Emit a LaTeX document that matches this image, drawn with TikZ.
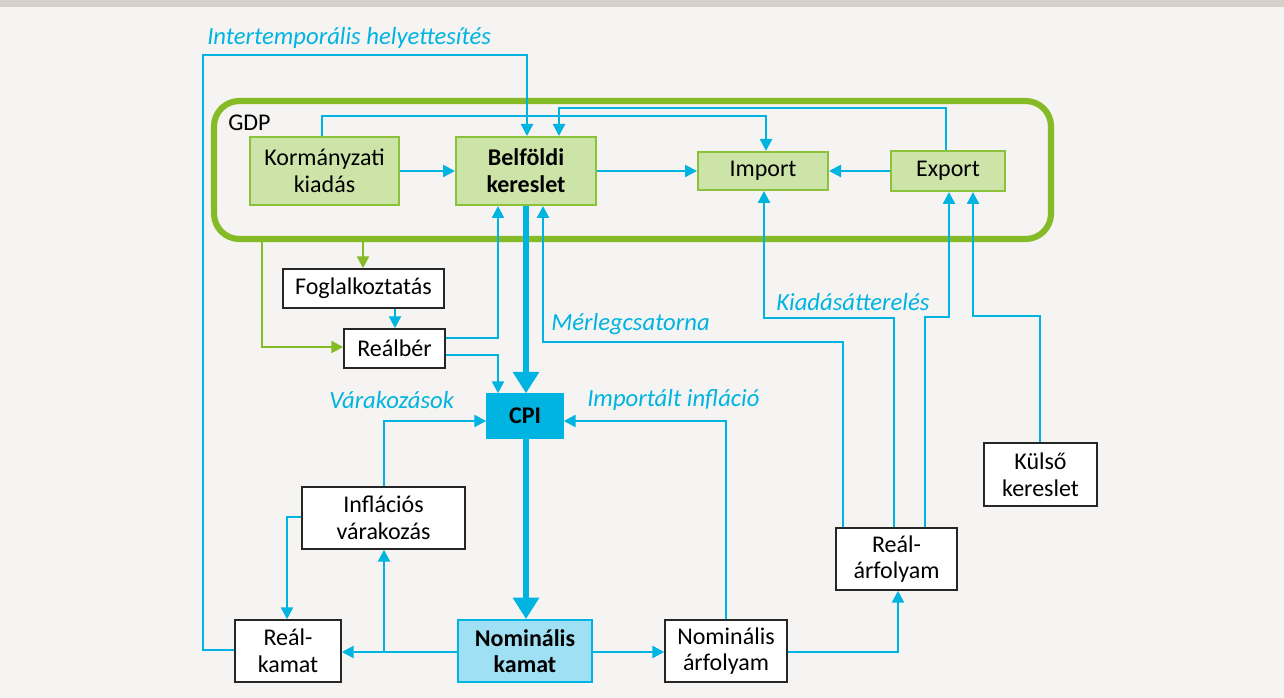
\documentclass[tikz,border=0pt]{standalone}
\usepackage{fontspec}
\setmainfont{Carlito}
\usetikzlibrary{arrows.meta,calc}
\definecolor{cy}{HTML}{00B4E1}
\definecolor{gr}{HTML}{84BB26}
\definecolor{gline}{HTML}{8CC13A}
\definecolor{gfill}{HTML}{CDE4A9}
\definecolor{bg}{HTML}{F5F4F2}
\definecolor{band}{HTML}{D6D0CB}
\definecolor{nkfill}{HTML}{A0E0F4}
\begin{document}
\begin{tikzpicture}[x=0.75pt,y=-0.75pt,
  box/.style={draw=black!85, line width=1.1pt, fill=white, inner sep=0pt, align=center,
    font=\fontsize{18}{20}\selectfont},
  gbox/.style={box, draw=gline, line width=1.5pt, fill=gfill},
  conn/.style={draw=cy, line width=1.8pt, -{Triangle[length=9pt,width=9pt]}},
  bigconn/.style={draw=cy, line width=3.8pt, -{Triangle[length=16pt,width=19pt]}},
  gconn/.style={draw=gr, line width=1.8pt, -{Triangle[length=9pt,width=9pt]}},
  lbl/.style={text=cy, inner sep=0pt, anchor=west, font=\fontsize{18.5}{20}\selectfont\itshape}
]
\useasboundingbox (0,0) rectangle (1284,698);
\fill[bg] (0,0) rectangle (1284,698);
\fill[band] (0,0) rectangle (1284,7);

% GDP frame
\draw[gr, line width=4.6pt, rounded corners=19pt] (214,101) rectangle (1051,239);
\node[inner sep=0pt, anchor=west, font=\fontsize{18}{20}\selectfont] (gdp) at (228,123) {GDP};
\coordinate (gdpb1) at (262,239);
\coordinate (gdpb2) at (363,239);

% nodes
\node[gbox, minimum width=149*0.75pt, minimum height=68*0.75pt] (korm) at (324.5,171) {Kormányzati\\kiadás};
\node[gbox, minimum width=140*0.75pt, minimum height=68*0.75pt, font=\fontsize{18}{20}\selectfont\bfseries] (belf) at (526,171) {Belföldi\\kereslet};
\node[gbox, minimum width=130*0.75pt, minimum height=38*0.75pt] (imp) at (763,171) {Import};
\node[gbox, minimum width=114*0.75pt, minimum height=40*0.75pt] (exp) at (948,171) {Export};
\node[box, minimum width=161*0.75pt, minimum height=39*0.75pt] (fogl) at (363.5,288.5) {Foglalkoztatás};
\node[box, minimum width=101*0.75pt, minimum height=39*0.75pt] (rber) at (394.5,348.5) {Reálbér};
\node[box, draw=cy, fill=cy, minimum width=76*0.75pt, minimum height=44*0.75pt, font=\fontsize{18}{20}\selectfont\bfseries] (cpi) at (525,416) {CPI};
\node[box, minimum width=163*0.75pt, minimum height=62*0.75pt] (infv) at (383.5,518) {Inflációs\\várakozás};
\node[box, minimum width=106*0.75pt, minimum height=62*0.75pt] (rkam) at (288,651) {Reál-\\kamat};
\node[box, draw=cy, line width=1.5pt, fill=nkfill, minimum width=134*0.75pt, minimum height=62*0.75pt, font=\fontsize{18}{20}\selectfont\bfseries] (nkam) at (525,651) {Nominális\\kamat};
\node[box, minimum width=122*0.75pt, minimum height=62*0.75pt] (narf) at (726,651) {Nominális\\árfolyam};
\node[box, minimum width=121*0.75pt, minimum height=62*0.75pt] (rarf) at (896.5,559) {Reál-\\árfolyam};
\node[box, minimum width=113*0.75pt, minimum height=63*0.75pt] (kuls) at (1040.5,474.5) {Külső\\kereslet};

% x helper coordinates
\coordinate (x203) at (203,0);
\coordinate (x287) at (287,0);
\coordinate (x322) at (322,0);
\coordinate (x363) at (363,0);
\coordinate (x384) at (384,0);
\coordinate (x395) at (395,0);
\coordinate (x498) at (498,0);
\coordinate (x526) at (526,0);
\coordinate (x527) at (527,0);
\coordinate (x543) at (543,0);
\coordinate (x559) at (559,0);
\coordinate (x726) at (726,0);
\coordinate (x764) at (764,0);
\coordinate (x766) at (766,0);
\coordinate (x843) at (843,0);
\coordinate (x894) at (894,0);
\coordinate (x898) at (898,0);
\coordinate (x925) at (925,0);
\coordinate (x946) at (946,0);
\coordinate (x949) at (949,0);
\coordinate (x973) at (973,0);
\coordinate (x1040) at (1040,0);
% y helper coordinates
\coordinate (y55) at (0,55);
\coordinate (y108) at (0,108);
\coordinate (y116) at (0,116);
\coordinate (y316) at (0,316);
\coordinate (y317) at (0,317);
\coordinate (y318) at (0,318);
\coordinate (y338) at (0,338);
\coordinate (y342) at (0,342);
\coordinate (y347) at (0,347);
\coordinate (y355) at (0,355);
\coordinate (y421) at (0,421);
\coordinate (y517) at (0,517);
\coordinate (y650) at (0,650);
\coordinate (y652) at (0,652);

% intertemporal
\draw[conn] (rkam.west |- y650) -| (x203 |- y55) -| (belf.north -| x527);
\node[lbl] (lint) at (207,38) {Intertemporális helyettesítés};
% top links
\draw[conn] (korm.north -| x322) |- (x766 |- y116) -- (imp.north -| x766);
\draw[conn] (exp.north -| x946) |- (x559 |- y108) -- (belf.north -| x559);
\draw[conn] (korm.east) -- (belf.west);
\draw[conn] (belf.east) -- (imp.west);
\draw[conn] (exp.west) -- (imp.east);
% green
\draw[gconn] (gdpb1) |- (rber.west |- y347);
\draw[gconn] (gdpb2) -- (fogl.north -| x363);
% labour
\draw[conn] (fogl.south -| x395) -- (rber.north -| x395);
\draw[conn] (rber.east |- y338) -| (belf.south -| x498);
\draw[conn] (rber.east |- y355) -| (cpi.north -| x498);
\draw[bigconn] (belf.south -| x526) -- (cpi.north -| x526);
% balance sheet
\draw[conn] (rarf.north -| x843) |- (x543 |- y342) -- (belf.south -| x543);
\node[lbl] (lmerl) at (551,324) {Mérlegcsatorna};
% expenditure switching
\draw[conn] (rarf.north -| x894) |- (x764 |- y318) -- (imp.south -| x764);
\node[lbl] (lkiad) at (776,302) {Kiadásátterelés};
\draw[conn] (rarf.north -| x925) |- (x949 |- y317) -- (exp.south -| x949);
\draw[conn] (kuls.north -| x1040) |- (x973 |- y316) -- (exp.south -| x973);
% expectations, imported inflation
\draw[conn] (infv.north -| x384) |- (cpi.west |- y421);
\node[lbl] (lvar) at (329,400) {Várakozások};
\draw[conn] (narf.north -| x726) |- (cpi.east |- y421);
\node[lbl] (limp) at (587,400) {Importált infláció};
% bottom
\draw[bigconn] (cpi.south -| x526) -- (nkam.north -| x526);
\draw[conn] (nkam.west |- y652) -- (rkam.east |- y652);
\draw[conn] (x384 |- y652) -- (infv.south -| x384);
\draw[conn] (infv.west |- y517) -| (rkam.north -| x287);
\draw[conn] (nkam.east |- y652) -- (narf.west |- y652);
\draw[conn] (narf.east |- y652) -| (rarf.south -| x898);
\end{tikzpicture}
\end{document}
